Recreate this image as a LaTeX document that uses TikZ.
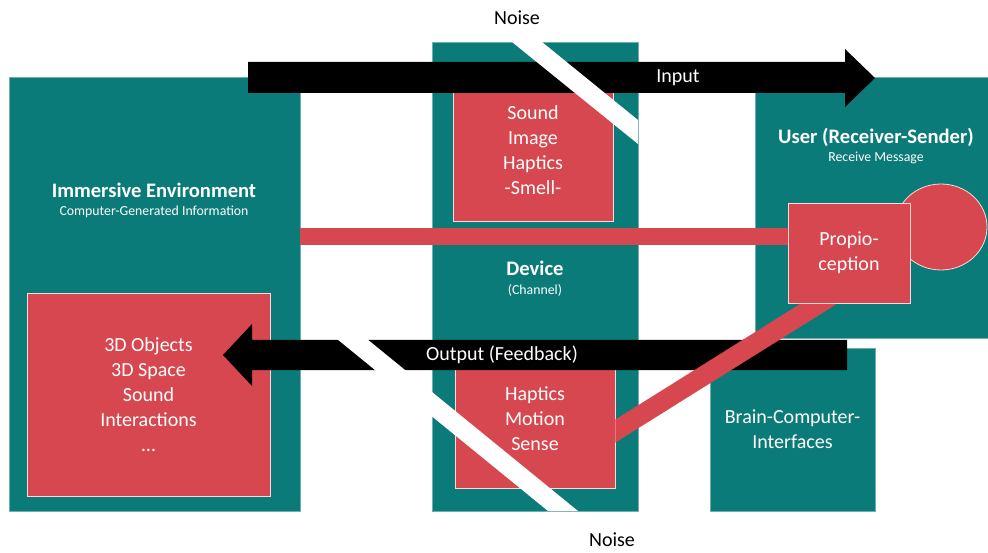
\documentclass[tikz,border=0pt]{standalone}
\usepackage{fontspec}
\setmainfont{Carlito}
\usetikzlibrary{calc,shapes.geometric}
\definecolor{tealc}{HTML}{0B7B79}
\definecolor{redc}{HTML}{D6474F}
\newcommand{\bigtxt}{\fontsize{20}{25}\selectfont}
\newcommand{\titletxt}{\fontsize{20.6}{25}\selectfont}
\newcommand{\smalltxt}{\fontsize{13.8}{16}\selectfont}
\begin{document}
\begin{tikzpicture}[x=1pt, y=-1pt,
  tealbox/.style={fill=tealc, draw=tealc!60!white, line width=0.5pt, inner sep=0pt},
  redbox/.style={fill=redc, draw=white!80!redc, line width=0.8pt, inner sep=0pt,
    text=white, align=center, font=\bigtxt},
  redbar/.style={draw=redc},
  title/.style={text=white, font=\titletxt\bfseries, inner sep=0pt},
  subtitle/.style={text=white, font=\smalltxt, inner sep=0pt},
  arrowtxt/.style={text=white, font=\bigtxt, inner sep=0pt},
  noisetxt/.style={text=black, font=\bigtxt, inner sep=0pt}]
    \useasboundingbox (0,0) rectangle (988,553);
    \coordinate (o) at (0,0);
    \coordinate (ppc) at (849,253);
    % the four blocks
    \node[tealbox, minimum width=291pt, minimum height=434pt] (env) at (154.5,294) {};
    \node[tealbox, minimum width=206pt, minimum height=469pt] (dev) at (535,276.5) {};
    \node[tealbox, minimum width=233pt, minimum height=261pt] (user) at (871.5,207.5) {};
    \node[tealbox, minimum width=165pt, minimum height=163pt, text=white, align=center,
          font=\bigtxt] (bci) at (792.5,429.5) {Brain-Computer-\\Interfaces};
    % red contents
    \node[redbox, minimum width=243pt, minimum height=203pt] (obj) at (148.5,394.5)
         {3D Objects\\3D Space\\Sound\\Interactions\\\dots};
    \node[redbox, minimum width=160pt, minimum height=141pt] (snd) at (533,150.5)
         {Sound\\Image\\Haptics\\-Smell-};
    \node[redbox, minimum width=160pt, minimum height=138pt] (hm) at (535,419)
         {Haptics\\Motion\\Sense};
    \draw[redbar, line width=17pt] ($(env.east)+(0,-57.5)$) -- ($(ppc)+(-51,-16.5)$);
    \node[ellipse, fill=redc, draw=white!80!redc, line width=0.8pt,
          minimum width=92pt, minimum height=86pt] (eye) at (941,227) {};

    % input arrow with noise
    \fill[black] (248,62) -- (845,62) -- (845,49) -- (875,78) -- (845,107)
                 -- (845,93) -- (248,93) -- cycle;
    \node[arrowtxt] (inp) at (678,78) {Input};
    \fill[white] (512,42) -- (542,42) -- (638,120) -- (638,144) -- cycle;

    % output arrow with noise
    \fill[black] (847,340) -- (252,340) -- (252,324) -- (223,355) -- (252,386)
                 -- (252,370) -- (847,370) -- cycle;
    \node[arrowtxt] (outp) at (502,355) {Output (Feedback)};
    \fill[white] (337,339) -- (367,339) -- (578,511) -- (548,511) -- cycle;

    \begin{scope}
      \clip (hm.east |- o) rectangle (988,553);
      \draw[redbar, line width=19.5pt, shorten <=-12pt, shorten >=-12pt]
           ($(ppc)+(-29,50)$) -- ($(hm.east)+(0,12)$);
    \end{scope}
    \node[redbox, minimum width=122pt, minimum height=100pt] (pp) at (ppc)
         {Propio-\\ception};

    % titles
    \node[title] (envt) at (154,190) {Immersive Environment};
    \node[subtitle] (envs) at (154,212) {Computer-Generated Information};
    \node[title] (devt) at (535,268) {Device};
    \node[subtitle] (devs) at (535,290) {(Channel)};
    \node[title] (usert) at (876,137) {User (Receiver-Sender)};
    \node[subtitle] (users) at (876,158) {Receive Message};
    \node[noisetxt] (n1) at (517,18) {Noise};
    \node[noisetxt] (n2) at (612,540) {Noise};
  \end{tikzpicture}
\end{document}
